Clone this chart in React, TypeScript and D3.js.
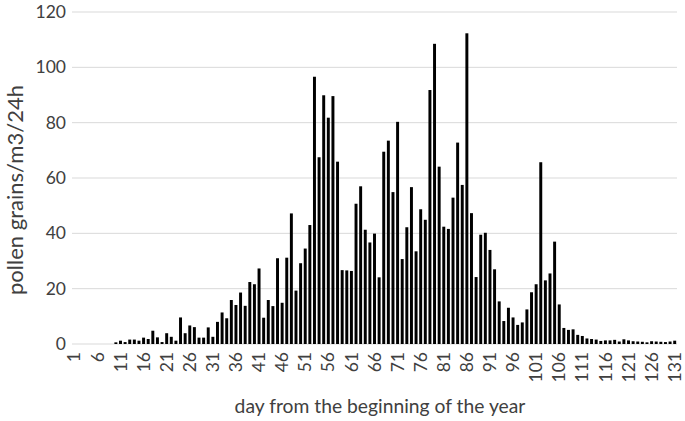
import React from "react";
import * as d3 from "d3";

const days: number[] = Array.from({ length: 131 }, (_, i) => i + 1);

const pollen: number[] = [
  0, 0, 0, 0, 0, 0, 0, 0, 0, 0.6,
  1.2, 0.7, 1.6, 1.6, 1.2, 2.3, 1.8, 4.8, 2.4, 0.7,
  3.9, 2.6, 1.2, 9.6, 3.9, 6.7, 6.1, 2.3, 2.3, 6,
  2.6, 8, 11.4, 9.3, 15.9, 14.1, 18.6, 13.8, 22.4, 21.6,
  27.3, 9.5, 15.9, 13.7, 31, 14.9, 31.2, 47.2, 19.3, 29.2,
  34.5, 43, 96.6, 67.5, 89.9, 81.8, 89.6, 65.9, 26.7, 26.6,
  26.4, 50.7, 57, 41.3, 36.7, 39.9, 24.1, 69.5, 73.5, 54.9,
  80.3, 30.7, 42.2, 56.7, 33.5, 48.7, 44.9, 91.8, 108.5, 64.1,
  42.4, 41.6, 52.9, 72.8, 57.5, 112.3, 47.3, 24.2, 39.5, 40.2,
  34, 27, 15.4, 8.3, 13.1, 9.6, 6.9, 7.8, 12.5, 18.7,
  21.6, 65.7, 23, 25.5, 37, 14.3, 5.8, 5.1, 5.3, 3.3,
  2.9, 2.0, 1.8, 1.6, 1.1, 1.3, 1.3, 1.5, 0.9, 1.7,
  1.3, 1.0, 0.9, 0.8, 0.6, 1.0, 0.9, 0.8, 0.7, 0.9,
  1.2,
];

const yTicks: number[] = [0, 20, 40, 60, 80, 100, 120];
const xTickDays: number[] = days.filter((d) => (d - 1) % 5 === 0);

const yTitle = "pollen grains/m3/24h";
const xTitle = "day from the beginning of the year";

const W = 685;
const H = 421;
const left = 72;
const right = 677;
const top = 12;
const bottom = 344;
const FONT = "Lato, 'Open Sans', sans-serif";
const TEXT = "#404040";

export default function App() {
  const x = d3
    .scaleBand<number>()
    .domain(days)
    .range([left, right])
    .paddingInner(0.36)
    .paddingOuter(0.18);
  const y = d3.scaleLinear().domain([0, 120]).range([bottom, top]);

  return (
    <svg
      width={W}
      height={H}
      style={{ position: "absolute", left: 0, top: 0, background: "#fff" }}
    >
      {yTicks.map((t) => (
        <g key={t}>
          <line
            x1={left}
            x2={right}
            y1={y(t)}
            y2={y(t)}
            stroke="#d9d9d9"
            strokeWidth={1}
          />
          <text
            x={66}
            y={y(t)}
            dy="0.35em"
            textAnchor="end"
            fontFamily={FONT}
            fontSize={17.5}
            fill={TEXT}
          >
            {t}
          </text>
        </g>
      ))}
      {days.map((d, i) => (
        <rect
          key={d}
          x={x(d)!}
          y={y(pollen[i])}
          width={x.bandwidth()}
          height={y(0) - y(pollen[i])}
          fill="#000"
        />
      ))}
      {xTickDays.map((d) => {
        const cx = x(d)! + x.bandwidth() / 2;
        return (
          <text
            key={d}
            transform={`translate(${cx},${bottom + 8}) rotate(-90)`}
            dy="0.35em"
            textAnchor="end"
            fontFamily={FONT}
            fontSize={17.5}
            fill={TEXT}
          >
            {d}
          </text>
        );
      })}
      <text
        transform={`translate(23,190) rotate(-90)`}
        textAnchor="middle"
        fontFamily={FONT}
        fontSize={22}
        fill={TEXT}
      >
        {yTitle}
      </text>
      <text
        x={380}
        y={413}
        textAnchor="middle"
        fontFamily={FONT}
        fontSize={19.3}
        fill={TEXT}
      >
        {xTitle}
      </text>
    </svg>
  );
}
